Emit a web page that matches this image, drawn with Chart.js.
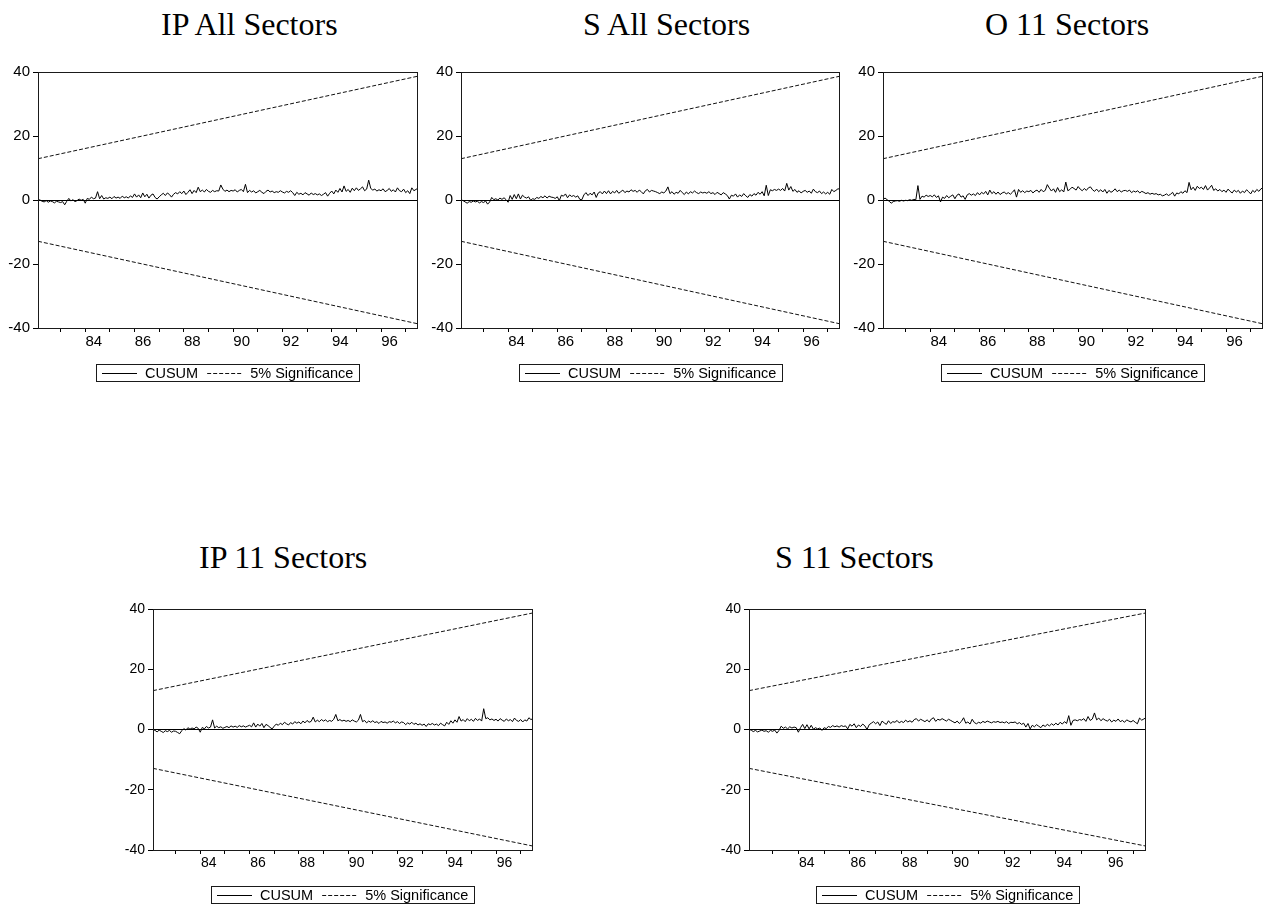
<!DOCTYPE html>
<html>
<head>
<meta charset="utf-8">
<title>CUSUM tests</title>
<script src="https://cdn.jsdelivr.net/npm/chart.js@4.4.1/dist/chart.umd.min.js"></script>
<style>
  html, body { margin: 0; padding: 0; background: #ffffff; }
  body { width: 1271px; height: 910px; position: relative; overflow: hidden; }
  .panel-title {
    position: absolute;
    font-family: "Liberation Serif", "Times New Roman", serif;
    font-size: 32px;
    line-height: 32px;
    color: #000;
    white-space: nowrap;
  }
  canvas { position: absolute; }
</style>
</head>
<body>
<script>
// Monthly recursive-residual sample: 1982M02 .. 1997M07
const START_YEAR = 1982;
const START_MONTH = 2;

const panelTitles = ['IP All Sectors', 'S All Sectors', 'O 11 Sectors', 'IP 11 Sectors', 'S 11 Sectors'];
const legendLabels = ['CUSUM', '5% Significance'];

// CUSUM statistics, one value per month (1982 has Feb-Dec, 1997 has Jan-Jul)
const cusumIPAll = [
  0.1, 0.0, -0.4, -0.6, -0.2, -0.7, -0.3, -0.5, -0.9, -0.4, -0.6,
  -0.8, -0.5, -1.5, -0.4, 0.5, -0.3, 0.1, -0.5, -0.2, 0.3, -0.1, 0.2,
  -1.0, 0.5, 0.2, 0.9, 0.4, 0.6, 2.6, 0.4, 1.4, 0.3, 0.7, 0.5,
  0.9, 0.4, 1.1, 0.6, 0.9, 0.5, 1.2, 0.7, 1.0, 0.6, 1.3, 0.8,
  1.9, 0.9, 1.6, 0.7, 2.2, 1.0, 1.8, 0.6, 1.5, 1.9, 0.8, 0.3,
  1.0, 1.6, 2.1, 1.4, 2.2, 1.7, 0.9, 1.8, 2.3, 1.9, 2.6, 2.0,
  2.8, 1.7, 2.4, 3.2, 2.0, 3.0, 2.3, 4.0, 2.6, 3.1, 2.5, 3.3,
  2.7, 2.4, 3.0, 2.6, 2.9, 2.8, 4.7, 3.4, 2.7, 3.1, 2.6, 3.0,
  2.8, 3.2, 2.5, 3.0, 3.3, 2.6, 4.9, 2.3, 3.0, 2.5, 2.9, 2.2,
  2.6, 3.0, 2.4, 2.0, 2.7, 3.1, 2.5, 2.8, 2.3, 2.6, 2.4, 2.9,
  2.5, 2.2, 2.7, 2.4, 2.9, 2.3, 1.4, 2.4, 1.8, 2.1, 1.6, 2.3,
  1.9, 1.5, 2.2, 1.7, 2.0, 1.6, 1.9, 1.4, 1.8, 2.3, 1.2, 2.1,
  2.8, 1.9, 3.1, 2.4, 3.6, 2.5, 4.4, 2.7, 3.3, 2.4, 3.7, 2.9,
  3.8, 3.0, 3.5, 4.1, 2.9, 3.4, 6.2, 3.6, 3.1, 3.4, 2.8, 3.2,
  2.9, 3.5, 2.6, 3.0, 3.6, 2.7, 3.2, 2.5, 3.8, 2.9, 2.6, 3.4,
  2.3, 2.9, 2.0, 3.8, 2.9, 3.3, 3.7
];

const cusumSAll = [
  0.1, -0.2, -0.6, -1.0, -0.5, -0.7, -0.3, -0.6, -0.4, -0.9, -0.5,
  -0.8, -0.3, -1.3, -0.6, 0.8, 0.1, 0.4, 0.0, 0.6, 0.2, 0.7, 0.1,
  -0.7, 1.4, 0.2, 1.7, 0.4, 1.9, 0.3, 1.5, 0.9, 0.6, 1.0, -0.1,
  0.4, 0.2, 0.8, 0.5, 1.1, 0.7, 1.3, 0.6, 1.2, 0.9, 0.8, 0.5,
  1.0, -0.2, 1.5, 1.2, 1.9, 0.7, 1.6, 1.1, 1.4, 0.9, 1.3, 0.2,
  0.1, 1.6, 2.3, 1.4, 2.1, 1.6, 2.5, 0.8, 2.2, 2.6, 1.9, 2.8,
  2.0, 2.9, 1.9, 2.7, 2.2, 3.0, 2.1, 2.6, 3.1, 2.3, 2.8, 2.5,
  3.2, 2.7, 3.0, 2.4, 3.1, 2.6, 1.9, 2.9, 3.3, 2.5, 3.0, 2.8,
  2.6, 2.3, 2.0, 2.5, 2.2, 2.8, 4.1, 2.0, 2.6, 1.8, 2.4, 2.1,
  3.0, 2.3, 1.7, 2.5, 1.9, 2.6, 2.2, 2.8, 2.3, 2.0, 2.5, 2.2,
  2.4, 2.1, 2.6, 2.0, 2.3, 1.7, 2.4, 2.0, 1.6, 2.3, 1.9, 1.4,
  0.3, 1.5, 1.2, 1.9, 0.9, 1.6, 1.1, 2.0, 1.3, 0.8, 1.7, 1.2,
  2.0, 1.5, 2.4, 1.8, 2.6, 1.3, 4.6, 1.4, 3.2, 2.9, 3.3, 3.0,
  3.4, 3.0, 3.6, 2.8, 5.2, 3.1, 4.2, 2.7, 3.3, 2.4, 2.9, 2.2,
  2.7, 3.0, 2.4, 2.8, 2.1, 3.4, 2.6, 2.3, 2.8, 2.0, 2.5, 1.9,
  2.4, 1.8, 3.3, 2.6, 3.0, 3.5, 3.4
];

const cusumO11 = [
  0.2, 0.6, 0.1, -0.4, -1.0, -0.5, -0.3, -0.2, -0.4, -0.1, -0.3,
  -0.1, -0.2, 0.1, -0.1, 0.2, 0.1, 4.5, 0.2, 1.2, 0.9, 1.5, 1.1,
  1.4, 1.0, 1.6, 0.8, 1.3, -0.6, 0.9, 0.5, 1.4, 0.7, 1.2, 1.6,
  0.4, 1.5, 1.9, 0.9, 1.3, 0.2, 1.6, 2.0, 1.5, 1.9, 1.4, 2.3,
  1.6, 2.4, 1.9, 2.7, 1.6, 3.1, 2.0, 2.6, 1.8, 2.5, 1.7, 2.2,
  2.5, 1.9, 2.3, 1.8, 2.4, 3.2, 0.9, 3.3, 2.4, 2.9, 2.3, 2.8,
  2.6, 3.0, 2.2, 2.8, 3.1, 2.4, 3.3, 2.6, 3.0, 4.8, 3.7, 2.8,
  3.5, 2.4, 3.9, 2.6, 3.2, 2.5, 5.6, 2.9, 3.3, 4.0, 3.6, 3.1,
  4.2, 3.4, 2.9, 3.6, 3.0, 3.8, 4.1, 3.2, 2.7, 3.4, 2.6, 3.2,
  2.5, 3.3, 2.1, 3.0, 2.4, 2.8, 3.5, 2.6, 3.1, 2.5, 2.9, 3.0,
  2.7, 3.1, 2.3, 2.8, 2.5, 2.9, 2.2, 2.7, 2.4, 2.0, 2.3, 1.8,
  2.1, 1.8, 2.0, 1.6, 1.8, 1.3, 1.5, 1.9, 1.4, 1.8, 2.4, 1.2,
  2.2, 1.9, 2.6, 2.1, 2.9, 2.3, 5.5, 3.2, 4.0, 3.0, 4.3, 3.6,
  4.0, 3.3, 4.5, 3.1, 3.8, 4.6, 3.0, 3.5, 2.8, 3.3, 2.6, 3.1,
  2.4, 3.4, 2.7, 2.2, 3.1, 2.5, 3.0, 2.1, 2.8, 2.3, 3.2, 2.6,
  1.9, 3.0, 2.4, 3.3, 2.7, 3.5, 3.8
];

const cusumIP11 = [
  0.0, -0.3, -0.8, -0.2, -0.6, -1.0, -0.4, -0.7, -0.3, -0.9, -0.5,
  -0.6, -1.0, -1.4, -0.4, 0.3, -0.2, 0.6, 0.1, 0.5, 0.2, 0.8, 0.4,
  -0.9, 0.7, 0.2, 1.0, 0.5, 0.8, 3.2, 0.5, 1.1, 0.6, 0.9, 0.4,
  0.7, 1.0, 0.6, 1.2, 0.8, 1.1, 0.7, 1.3, 0.9, 1.2, 0.8, 1.1,
  1.4, 0.9, 2.2, 0.8, 1.8, 1.1, 2.0, 0.6, 1.7, 1.3, 0.7, 0.2,
  1.1, 1.8, 1.4, 2.1, 1.6, 2.4, 1.9, 1.5, 2.3, 1.8, 2.6, 2.1,
  2.5, 1.9, 2.8, 2.2, 3.0, 2.4, 2.7, 4.1, 2.5, 3.1, 2.6, 3.3,
  2.8, 3.2, 2.6, 3.0, 2.7, 3.4, 5.0, 2.9, 3.3, 2.8, 3.1, 2.7,
  3.0, 2.6, 3.2, 2.8, 2.5, 3.1, 5.0, 2.6, 3.0, 2.2, 2.8, 2.4,
  2.9, 2.3, 2.6, 2.0, 2.7, 2.3, 2.5, 2.1, 2.6, 2.4, 2.8, 2.2,
  2.6, 2.0, 2.5, 2.3, 1.6, 2.2, 1.8, 2.4, 1.7, 2.1, 1.5, 1.9,
  1.4, 1.8, 1.0, 1.9, 1.6, 2.0, 1.5, 1.8, 1.3, 2.1, 1.6, 1.2,
  2.4, 1.7, 2.9, 2.1, 3.2, 2.4, 4.3, 2.8, 3.3, 2.6, 3.6, 2.9,
  3.4, 2.7, 3.7, 3.0, 3.5, 2.8, 6.9, 3.6, 3.9, 3.2, 3.5, 3.0,
  3.4, 2.8, 3.6, 3.1, 2.7, 3.5, 2.9, 3.3, 2.6, 3.8, 3.0, 2.7,
  3.3, 2.5, 3.2, 2.8, 3.9, 3.3, 3.6
];

const cusumS11 = [
  0.0, -0.2, -0.7, -0.3, -0.8, -0.5, -0.2, -0.6, -0.4, -0.9, -0.3,
  -0.6, -0.2, -1.2, -0.3, 1.1, 0.4, 0.8, 0.2, 0.9, 0.5, 0.8, 0.6,
  -0.9, 0.6, 1.7, 0.3, 1.6, 0.2, 1.4, 0.1, 0.6, 0.2, 0.5, -0.3,
  0.6, 0.3, 1.0, 0.7, 1.3, 0.9, 1.2, 0.8, 1.3, 1.0, 1.2, 0.2,
  1.7, 1.1, 1.9, 0.6, 1.5, 1.0, 1.8, 1.2, 0.0, 1.6, 2.1, 2.6,
  1.9, 2.5, 1.3, 2.8, 2.2, 1.7, 2.9, 2.0, 2.6, 2.4, 3.0, 2.2,
  2.7, 2.3, 3.1, 2.5, 2.9, 2.4, 3.3, 3.6, 2.8, 3.4, 3.0, 2.6,
  3.2, 2.5, 3.5, 3.9, 2.7, 3.4, 3.1, 3.6, 3.2, 2.8, 3.4, 3.0,
  2.6, 2.2, 2.8, 2.0, 2.7, 3.9, 2.1, 2.5, 1.8, 3.4, 2.3, 1.9,
  2.4, 2.1, 2.7, 2.3, 2.8, 2.5, 2.2, 2.6, 2.4, 2.7, 2.3, 2.5,
  2.2, 2.6, 2.0, 2.4, 2.3, 2.5, 1.9, 2.3, 1.7, 2.1, 0.8, 2.0,
  0.2, 1.4, 0.9, 1.6, 1.1, 0.6, 1.5, 1.0, 1.7, 1.2, 1.9, 1.4,
  2.1, 1.5, 2.4, 1.8, 2.6, 2.0, 4.6, 1.4, 3.0, 3.2, 2.9, 3.3,
  3.1, 3.6, 2.7, 4.3, 3.0, 3.5, 5.5, 3.2, 3.8, 2.9, 3.6, 3.1,
  2.8, 3.4, 2.5, 3.1, 2.7, 3.5, 2.6, 3.0, 2.4, 3.2, 2.8, 2.5,
  3.0, 2.4, 1.9, 3.8, 3.1, 3.5, 3.9
];

const panelSeries = [cusumIPAll, cusumSAll, cusumO11, cusumIP11, cusumS11];

// 5% significance bounds at the first and last observation
const boundStart = 12.9;
const boundEnd = 38.7;

const yTicks = [-40, -20, 0, 20, 40];
const yearTicks = [1983, 1984, 1985, 1986, 1987, 1988, 1989, 1990, 1991, 1992, 1993, 1994, 1995, 1996, 1997];

// Page layout of each panel: plot box (left, top, right, bottom), title anchor, tick font size
const panelLayout = [
  { plot: [38, 72, 418, 328],   title: [161, 8],   tickFont: 15 },
  { plot: [461, 72, 840, 328],  title: [583, 8],   tickFont: 15 },
  { plot: [883, 72, 1263, 328], title: [985, 8],   tickFont: 15 },
  { plot: [153, 609, 533, 850], title: [199, 541], tickFont: 14 },
  { plot: [749, 609, 1146, 850], title: [775, 541], tickFont: 14 }
];

const SANS = '"Liberation Sans", Arial, Helvetica, sans-serif';
const AXIS_W = 45, PAD_TOP = 12, PAD_RIGHT = 10, XAXIS_H = 30, BELOW = 75;

// Closed frame round the plotting area
const frameBox = {
  id: 'frameBox',
  afterDatasetsDraw(chart) {
    const { ctx, chartArea: a } = chart;
    ctx.save();
    ctx.strokeStyle = '#1a1a1a';
    ctx.lineWidth = 1;
    ctx.strokeRect(Math.round(a.left) + 0.5, Math.round(a.top) + 0.5,
                   Math.round(a.right - a.left) - 1, Math.round(a.bottom - a.top));
    ctx.restore();
  }
};

// Boxed legend centred under the plotting area
const boxedLegend = {
  id: 'boxedLegend',
  afterDraw(chart, args, opts) {
    const { ctx, chartArea: a } = chart;
    const items = chart.data.datasets.filter(d => d.showInLegend);
    ctx.save();
    ctx.font = `${opts.fontSize}px ${SANS}`;
    const pad = 6, sample = 35, gapIn = 8, gapOut = 9;
    const widths = items.map(d => ctx.measureText(d.label).width);
    let total = pad * 2 + gapOut * (items.length - 1);
    widths.forEach(w => { total += sample + gapIn + w; });
    const x0 = Math.round((a.left + a.right) / 2 - total / 2);
    const y0 = Math.round(a.bottom + opts.gap);
    const h = opts.height;
    ctx.strokeStyle = '#1a1a1a';
    ctx.lineWidth = 1;
    ctx.strokeRect(x0 + 0.5, y0 + 0.5, Math.round(total), h);
    const midY = y0 + 0.5 + h / 2;
    let x = x0 + pad;
    items.forEach((d, i) => {
      ctx.beginPath();
      ctx.setLineDash(d.borderDash || []);
      ctx.strokeStyle = d.borderColor;
      ctx.lineWidth = 1;
      ctx.moveTo(x, Math.round(midY) + 0.5);
      ctx.lineTo(x + sample, Math.round(midY) + 0.5);
      ctx.stroke();
      ctx.setLineDash([]);
      x += sample + gapIn;
      ctx.fillStyle = '#000';
      ctx.textBaseline = 'middle';
      ctx.textAlign = 'left';
      ctx.fillText(d.label, x, midY + 0.5);
      x += widths[i] + gapOut;
    });
    ctx.restore();
  }
};

const months = cusumIPAll.map((_, i) => START_YEAR + (START_MONTH - 1 + i) / 12);

panelSeries.forEach((series, p) => {
  const lay = panelLayout[p];
  const [L, T, R, B] = lay.plot;

  const title = document.createElement('div');
  title.className = 'panel-title';
  title.textContent = panelTitles[p];
  title.style.left = lay.title[0] + 'px';
  title.style.top = lay.title[1] + 'px';
  document.body.appendChild(title);

  const canvas = document.createElement('canvas');
  const cw = (R - L) + AXIS_W + PAD_RIGHT;
  const ch = (B - T) + PAD_TOP + BELOW;
  canvas.width = cw;
  canvas.height = ch;
  canvas.style.width = cw + 'px';
  canvas.style.height = ch + 'px';
  canvas.style.left = (L - AXIS_W) + 'px';
  canvas.style.top = (T - PAD_TOP) + 'px';
  document.body.appendChild(canvas);

  const xFirst = months[0];
  const xLast = months[series.length - 1];
  const tickFont = { family: SANS, size: lay.tickFont };

  new Chart(canvas.getContext('2d'), {
    type: 'line',
    data: {
      datasets: [
        {
          label: legendLabels[0],
          showInLegend: true,
          data: series.map((v, i) => ({ x: months[i], y: v })),
          borderColor: '#000',
          borderWidth: 1,
          pointRadius: 0,
          tension: 0,
          order: 0
        },
        {
          label: legendLabels[1],
          showInLegend: true,
          data: [{ x: xFirst, y: boundStart }, { x: xLast, y: boundEnd }],
          borderColor: '#111',
          borderWidth: 1,
          borderDash: [4, 2],
          pointRadius: 0,
          order: 1
        },
        {
          label: legendLabels[1],
          showInLegend: false,
          data: [{ x: xFirst, y: -boundStart }, { x: xLast, y: -boundEnd }],
          borderColor: '#111',
          borderWidth: 1,
          borderDash: [4, 2],
          pointRadius: 0,
          order: 1
        }
      ]
    },
    options: {
      responsive: false,
      animation: false,
      devicePixelRatio: 1,
      layout: { padding: { left: 0, top: PAD_TOP, right: PAD_RIGHT, bottom: BELOW - XAXIS_H } },
      plugins: {
        legend: { display: false },
        tooltip: { enabled: false },
        boxedLegend: { fontSize: 14.5, gap: 36, height: 17 }
      },
      scales: {
        x: {
          type: 'linear',
          min: xFirst,
          max: xLast,
          afterBuildTicks: s => { s.ticks = yearTicks.map(v => ({ value: v })); },
          afterFit: s => { s.height = XAXIS_H; },
          border: { display: false },
          grid: { drawOnChartArea: false, drawTicks: true, tickLength: 4, tickColor: '#000', lineWidth: 1 },
          ticks: {
            autoSkip: false, maxRotation: 0, minRotation: 0, padding: 1, labelOffset: 8.5,
            color: '#000', font: tickFont,
            callback: v => (v % 2 === 0 ? String(v).slice(2) : '')
          }
        },
        y: {
          type: 'linear',
          min: -40,
          max: 40,
          afterBuildTicks: s => { s.ticks = yTicks.map(v => ({ value: v })); },
          afterFit: s => { s.width = AXIS_W; },
          border: { display: false },
          grid: {
            drawOnChartArea: true, drawTicks: true, tickLength: 5, tickColor: '#000', lineWidth: 1,
            color: ctx => (ctx.tick && ctx.tick.value === 0 ? '#000' : 'rgba(0,0,0,0)')
          },
          ticks: { padding: 3, color: '#000', font: tickFont, callback: v => String(v) }
        }
      }
    },
    plugins: [frameBox, boxedLegend]
  });
});
</script>
</body>
</html>
